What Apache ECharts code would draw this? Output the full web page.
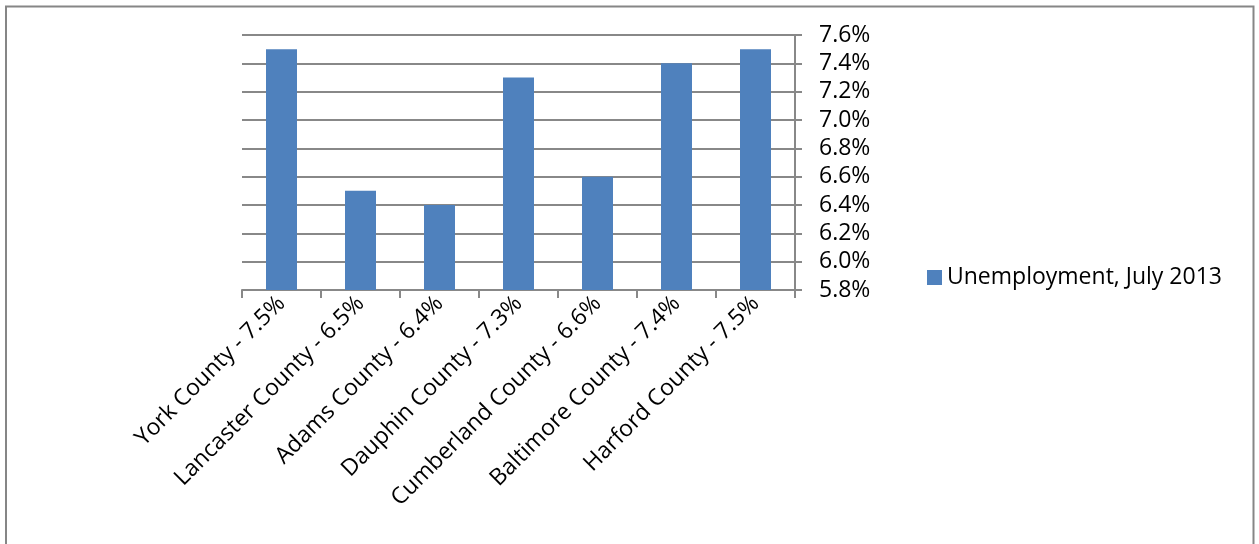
<!DOCTYPE html>
<html>
<head>
<meta charset="utf-8">
<script src="https://cdn.jsdelivr.net/npm/echarts@6/dist/echarts.min.js"></script>
<style>
html,body{margin:0;padding:0;background:#fff;}
#c{width:1259px;height:544px;}
</style>
</head>
<body>
<div id="c"></div>
<script>
var categories = ["York County - 7.5%", "Lancaster County - 6.5%", "Adams County - 6.4%", "Dauphin County - 7.3%", "Cumberland County - 6.6%", "Baltimore County - 7.4%", "Harford County - 7.5%"];
var values = [7.5, 6.5, 6.4, 7.3, 6.6, 7.4, 7.5];
var seriesName = "Unemployment, July 2013";

var FONT = "Open Sans";
var chart = echarts.init(document.getElementById('c'));
chart.setOption({
  animation: false,
  graphic: [{
    type: 'rect',
    shape: {x: 6, y: 6.5, width: 1247.5, height: 600},
    style: {fill: 'none', stroke: '#868686', lineWidth: 2},
    silent: true
  }],
  legend: {
    data: [seriesName],
    left: 922, top: 261,
    itemWidth: 15, itemHeight: 15,
    icon: 'rect',
    itemGap: 8,
    textStyle: {fontFamily: FONT, fontSize: 23, color: '#000'}
  },
  grid: {left: 242, right: 464, top: 35, bottom: 254, containLabel: false},
  xAxis: {
    type: 'category',
    data: categories,
    axisLine: {lineStyle: {color: '#888', width: 2}},
    axisTick: {show: true, length: 8, lineStyle: {color: '#888', width: 2}},
    axisLabel: {rotate: 45, interval: 0, margin: 10, fontFamily: FONT, fontSize: 23, color: '#000'}
  },
  yAxis: {
    type: 'value',
    position: 'right',
    min: 5.8, max: 7.6, interval: 0.2,
    axisLine: {show: true, lineStyle: {color: '#888', width: 2}},
    axisTick: {show: true, length: 7, lineStyle: {color: '#888', width: 2}},
    splitLine: {lineStyle: {color: '#888', width: 2}},
    axisLabel: {margin: 24, fontFamily: FONT, fontSize: 23, color: '#000',
      formatter: function(v){ return v.toFixed(1) + '%'; }}
  },
  series: [{
    name: seriesName,
    type: 'bar',
    data: values,
    barWidth: 31,
    itemStyle: {color: '#4F81BD'}
  }]
});
</script>
</body>
</html>
